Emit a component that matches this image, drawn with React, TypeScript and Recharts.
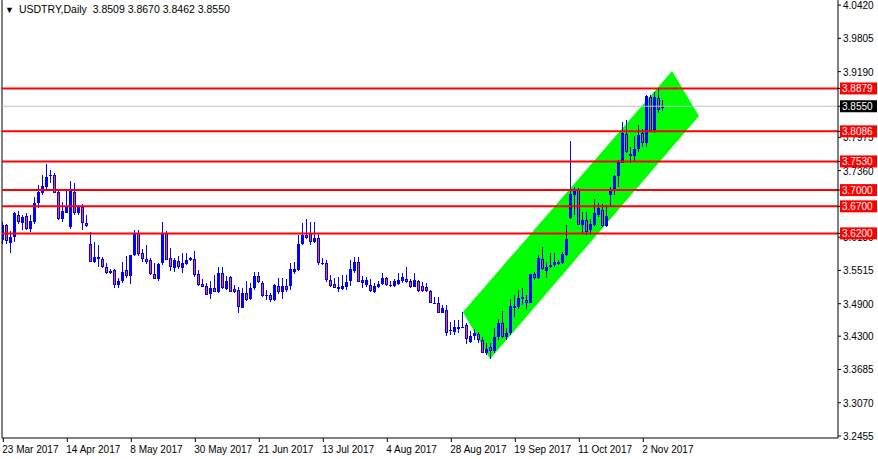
import { ComposedChart, Bar, XAxis, YAxis, ReferenceLine, ReferenceArea } from 'recharts'

// USDTRY daily candles, one value per bar (23 Mar 2017 onwards)
const opens = [
  3.6078, 3.6355, 3.6016, 3.6127, 3.6534, 3.6398, 3.6521, 3.6287, 3.6417, 3.6755,
  3.6953, 3.7051, 3.7261, 3.7279, 3.6965, 3.6460, 3.6583, 3.6324, 3.6965, 3.6571,
  3.6694, 3.6386, 3.5998, 3.5677, 3.5757, 3.5721, 3.5585, 3.5511, 3.5523, 3.5246,
  3.5320, 3.5523, 3.5413, 3.5794, 3.6213, 3.5831, 3.5721, 3.5708, 3.5449, 3.5351,
  3.5647, 3.6213, 3.5739, 3.5567, 3.5690, 3.5567, 3.5634, 3.5708, 3.5727, 3.5449,
  3.5265, 3.5228, 3.5080, 3.5185, 3.5123, 3.5474, 3.5172, 3.5388, 3.5172, 3.5154,
  3.4815, 3.5092, 3.4987, 3.5185, 3.5413, 3.5277, 3.5061, 3.5061, 3.4969, 3.5228,
  3.5111, 3.5228, 3.5228, 3.5493, 3.5523, 3.6004, 3.6170, 3.6201, 3.6047, 3.6121,
  3.5659, 3.5659, 3.5339, 3.5265, 3.5166, 3.5166, 3.5203, 3.5326, 3.5511, 3.5665,
  3.5290, 3.5240, 3.5246, 3.5123, 3.5216, 3.5265, 3.5370, 3.5228, 3.5228, 3.5265,
  3.5326, 3.5351, 3.5326, 3.5216, 3.5326, 3.5228, 3.5216, 3.5142, 3.4920, 3.4920,
  3.4735, 3.4784, 3.4415, 3.4384, 3.4433, 3.4446, 3.4507, 3.4187, 3.4304, 3.4341,
  3.4230, 3.3984, 3.4107, 3.4027, 3.4292, 3.4538, 3.4279, 3.4365, 3.4814, 3.4845,
  3.4981, 3.4968, 3.4920, 3.5450, 3.5370, 3.5721, 3.5512, 3.5586, 3.5616, 3.5635,
  3.5647, 3.5801, 3.6491, 3.6910, 3.7002, 3.6356, 3.6448, 3.6263, 3.6356, 3.6540,
  3.6633, 3.6337, 3.6910, 3.7002, 3.7261, 3.7508, 3.8037, 3.7668, 3.7631, 3.7754,
  3.8062, 3.7865, 3.8715, 3.8111, 3.8697, 3.8509,
]
const highs = [
  3.6417, 3.6373, 3.6244, 3.6601, 3.6614, 3.6540, 3.6571, 3.6540, 3.6879, 3.7094,
  3.7279, 3.7482, 3.7371, 3.7322, 3.7002, 3.6786, 3.6983, 3.7168, 3.7131, 3.6725,
  3.6743, 3.6534, 3.6232, 3.6035, 3.5979, 3.5757, 3.5647, 3.5548, 3.5542, 3.5369,
  3.5671, 3.5782, 3.5794, 3.6263, 3.6263, 3.5905, 3.5979, 3.5739, 3.5647, 3.5647,
  3.6417, 3.6250, 3.5930, 3.5739, 3.5782, 3.5831, 3.5844, 3.5770, 3.5874, 3.5523,
  3.5351, 3.5277, 3.5320, 3.5431, 3.5585, 3.5573, 3.5413, 3.5413, 3.5246, 3.5203,
  3.5185, 3.5326, 3.5289, 3.5493, 3.5493, 3.5320, 3.5154, 3.5092, 3.5265, 3.5369,
  3.5369, 3.5351, 3.5659, 3.5677, 3.6170, 3.6386, 3.6466, 3.6417, 3.6417, 3.6201,
  3.5739, 3.5708, 3.5431, 3.5369, 3.5388, 3.5431, 3.5431, 3.5708, 3.5770, 3.5770,
  3.5413, 3.5400, 3.5351, 3.5277, 3.5326, 3.5474, 3.5400, 3.5326, 3.5351, 3.5474,
  3.5474, 3.5573, 3.5351, 3.5474, 3.5339, 3.5308, 3.5277, 3.5154, 3.5031, 3.5031,
  3.4877, 3.4877, 3.4569, 3.4600, 3.4600, 3.4741, 3.4538, 3.4402, 3.4427, 3.4384,
  3.4292, 3.4168, 3.4168, 3.4446, 3.4612, 3.4772, 3.4446, 3.4981, 3.5061, 3.5153,
  3.5184, 3.5061, 3.5450, 3.5493, 3.5801, 3.5955, 3.5678, 3.5832, 3.5844, 3.5709,
  3.5863, 3.6356, 3.7914, 3.7064, 3.7033, 3.6602, 3.6602, 3.6460, 3.6830, 3.6768,
  3.6744, 3.6725, 3.7064, 3.7280, 3.7557, 3.8265, 3.8296, 3.7791, 3.8001, 3.8204,
  3.8124, 3.8758, 3.8758, 3.8820, 3.8863, 3.8670,
]
const lows = [
  3.6004, 3.6004, 3.5844, 3.6047, 3.6373, 3.6263, 3.6263, 3.6232, 3.6373, 3.6663,
  3.6909, 3.7014, 3.7137, 3.6940, 3.6447, 3.6417, 3.6583, 3.6275, 3.6540, 3.6540,
  3.6263, 3.6312, 3.5677, 3.5647, 3.5585, 3.5554, 3.5449, 3.5449, 3.5185, 3.5185,
  3.5277, 3.5369, 3.5259, 3.5782, 3.5782, 3.5671, 3.5628, 3.5431, 3.5351, 3.5320,
  3.5616, 3.5708, 3.5505, 3.5493, 3.5548, 3.5474, 3.5610, 3.5696, 3.5400, 3.5234,
  3.5203, 3.5061, 3.4981, 3.5123, 3.5105, 3.5166, 3.5154, 3.5111, 3.5092, 3.4735,
  3.4815, 3.4950, 3.4969, 3.5154, 3.5277, 3.5031, 3.4969, 3.4938, 3.4957, 3.5074,
  3.4987, 3.5123, 3.5154, 3.5449, 3.5511, 3.5985, 3.6090, 3.5985, 3.6016, 3.5616,
  3.5616, 3.5308, 3.5203, 3.5185, 3.5111, 3.5154, 3.5154, 3.5228, 3.5474, 3.5296,
  3.5185, 3.5216, 3.5123, 3.5092, 3.5185, 3.5246, 3.5228, 3.5216, 3.5216, 3.5246,
  3.5290, 3.5290, 3.5185, 3.5203, 3.5123, 3.5123, 3.5123, 3.4908, 3.4895, 3.4735,
  3.4735, 3.4304, 3.4322, 3.4322, 3.4353, 3.4446, 3.4150, 3.4168, 3.4230, 3.4181,
  3.3984, 3.3953, 3.3873, 3.3984, 3.4230, 3.4261, 3.4230, 3.4322, 3.4648, 3.4796,
  3.4876, 3.4796, 3.4908, 3.5339, 3.5352, 3.5524, 3.5370, 3.5555, 3.5586, 3.5616,
  3.5635, 3.5783, 3.6460, 3.6540, 3.6356, 3.6202, 3.6171, 3.6171, 3.6337, 3.6510,
  3.6325, 3.6325, 3.6707, 3.6910, 3.7064, 3.7495, 3.7680, 3.7508, 3.7526, 3.7711,
  3.7791, 3.7803, 3.8081, 3.8062, 3.8432, 3.8462,
]
const closes = [
  3.6355, 3.6065, 3.6127, 3.6571, 3.6417, 3.6509, 3.6287, 3.6429, 3.6755, 3.6965,
  3.7076, 3.7236, 3.7279, 3.6953, 3.6460, 3.6614, 3.6694, 3.6983, 3.6571, 3.6681,
  3.6386, 3.6343, 3.5677, 3.5757, 3.5721, 3.5585, 3.5462, 3.5474, 3.5246, 3.5320,
  3.5493, 3.5419, 3.5794, 3.6213, 3.5819, 3.5721, 3.5665, 3.5443, 3.5351, 3.5634,
  3.6201, 3.5708, 3.5573, 3.5708, 3.5573, 3.5659, 3.5708, 3.5745, 3.5431, 3.5240,
  3.5215, 3.5061, 3.5185, 3.5123, 3.5474, 3.5185, 3.5320, 3.5123, 3.5123, 3.4846,
  3.5092, 3.4969, 3.5185, 3.5413, 3.5296, 3.5049, 3.5043, 3.4969, 3.5240, 3.5111,
  3.5228, 3.5154, 3.5542, 3.5542, 3.6004, 3.6170, 3.6121, 3.6047, 3.6121, 3.5647,
  3.5628, 3.5339, 3.5228, 3.5197, 3.5203, 3.5234, 3.5308, 3.5536, 3.5678, 3.5308,
  3.5339, 3.5339, 3.5142, 3.5234, 3.5265, 3.5370, 3.5240, 3.5246, 3.5326, 3.5339,
  3.5400, 3.5302, 3.5216, 3.5339, 3.5142, 3.5142, 3.5142, 3.4920, 3.4908, 3.4735,
  3.4828, 3.4353, 3.4396, 3.4464, 3.4464, 3.4476, 3.4242, 3.4304, 3.4366, 3.4230,
  3.3984, 3.4058, 3.4027, 3.4292, 3.4538, 3.4292, 3.4353, 3.4858, 3.4858, 3.4999,
  3.5018, 3.4919, 3.5450, 3.5370, 3.5740, 3.5536, 3.5586, 3.5616, 3.5678, 3.5678,
  3.5814, 3.6097, 3.6928, 3.7015, 3.6356, 3.6448, 3.6232, 3.6374, 3.6571, 3.6664,
  3.6337, 3.6522, 3.7015, 3.7261, 3.7526, 3.8050, 3.7711, 3.7637, 3.7754, 3.8019,
  3.7865, 3.8740, 3.8099, 3.8715, 3.8481, 3.8550,
]

// date labels every 16 bars
const tickBars = [0, 16, 32, 48, 64, 80, 96, 112, 128, 144, 160]
const tickDates = [
  '23 Mar 2017', '14 Apr 2017', '8 May 2017', '30 May 2017', '21 Jun 2017', '13 Jul 2017',
  '4 Aug 2017', '28 Aug 2017', '19 Sep 2017', '11 Oct 2017', '2 Nov 2017',
]
// price scale labels that are visible (the ones fully under a tag are left out)
const priceTicks = [
  4.042, 3.9805, 3.919, 3.7975, 3.736, 3.613, 3.5515, 3.49, 3.43, 3.3685, 3.307, 3.2455,
]
const levels = [3.8879, 3.8086, 3.753, 3.7, 3.67, 3.62]
const lastPrice = 3.855

// equidistant channel corners: [bar, price]
const channelTopLeft = [114.9, 3.4747]
const channelBottom = [121.7, 3.3878]
const channelRight = [173.9, 3.837]
const channelTop = [167.2, 3.9202]

const FONT = '"Liberation Sans", Arial, sans-serif'
const BLUE = '#0000ff'
const BEAR_FILL = '#f4511e'

const data = opens.map((o, i) => ({
  bar: i,
  o,
  h: highs[i],
  l: lows[i],
  c: closes[i],
  range: [lows[i], highs[i]],
}))

// price tags last so they paint over the plain tick labels
const axisTicks = [...priceTicks, lastPrice, ...levels]

function Candle(props: any) {
  const { x, y, width, height, payload } = props
  if (!payload || height == null) return null
  const { o, h, l, c } = payload
  const ppu = h > l ? height / (h - l) : 0
  const cx = Math.floor(x + width / 2)
  const yOf = (v: number) => y + (h - v) * ppu
  const top = Math.round(yOf(Math.max(o, c)))
  const bot = Math.round(yOf(Math.min(o, c)))
  const bodyH = Math.max(1, bot - top)
  const wickTop = Math.round(y)
  const wickH = Math.max(1, Math.round(y + height) - wickTop)
  const bear = c < o
  return (
    <g shapeRendering="crispEdges">
      <rect x={cx} y={wickTop} width={1} height={wickH} fill={BLUE} />
      <rect x={cx - 1} y={top} width={3} height={bodyH} fill={BLUE} />
      {bear && bodyH > 2 && (
        <rect x={cx} y={top + 1} width={1} height={bodyH - 2} fill={BEAR_FILL} />
      )}
    </g>
  )
}

function Channel(props: any) {
  const { x, y, width, height } = props
  const x1 = channelTopLeft[0]
  const x2 = channelRight[0]
  const yMax = channelTop[1]
  const yMin = channelBottom[1]
  const px = (b: number) => x + ((b - x1) / (x2 - x1)) * width
  const py = (v: number) => y + ((yMax - v) / (yMax - yMin)) * height
  const pts = [channelTopLeft, channelBottom, channelRight, channelTop]
    .map(([b, v]) => `${px(b)},${py(v)}`)
    .join(' ')
  return <polygon points={pts} fill="#00ff00" stroke="none" />
}

function PriceTick({ x, y, payload }: any) {
  const v = payload.value
  const label = Number(v).toFixed(4)
  const isLevel = levels.includes(v)
  const isLast = v === lastPrice
  if (isLevel || isLast) {
    const left = x - 3
    return (
      <g>
        <rect x={left} y={y - 6} width={37} height={12} fill={isLast ? '#000' : '#ff0000'} />
        <text x={left + 2} y={y + 4} fill="#fff" fontSize={10} fontFamily={FONT}>
          {label}
        </text>
      </g>
    )
  }
  return (
    <text x={x} y={y + 4} fill="#000" fontSize={10} fontFamily={FONT}>
      {label}
    </text>
  )
}

function DateTick({ x, y, payload }: any) {
  const idx = tickBars.indexOf(payload.value)
  return (
    <text x={x - 1} y={y + 9} fontSize={10} fontFamily={FONT} fill="#000" textAnchor="start">
      {tickDates[idx]}
    </text>
  )
}

export default function App() {
  return (
    <div style={{ position: 'absolute', left: 0, top: 0, width: 878, height: 459, background: '#fff' }}>
      <ComposedChart
        width={878}
        height={459}
        data={data}
        margin={{ top: 0, right: 0, bottom: 0, left: 2 }}
      >
        <XAxis
          dataKey="bar"
          type="number"
          domain={[-0.33, 208.67]}
          allowDataOverflow
          ticks={tickBars}
          interval={0}
          tick={<DateTick />}
          height={21}
          tickSize={4}
          tickLine={{ stroke: '#000' }}
          axisLine={{ stroke: '#000' }}
        />
        <YAxis
          orientation="right"
          type="number"
          domain={[3.2418, 4.0514]}
          allowDataOverflow
          ticks={axisTicks}
          interval={0}
          width={40}
          tickSize={3}
          tickMargin={2}
          tick={<PriceTick />}
          tickLine={{ stroke: '#000' }}
          axisLine={{ stroke: '#000' }}
        />
        <ReferenceArea
          x1={channelTopLeft[0]}
          x2={channelRight[0]}
          y1={channelBottom[1]}
          y2={channelTop[1]}
          shape={<Channel />}
          ifOverflow="visible"
        />
        <ReferenceLine x={-0.33} stroke="#000" strokeWidth={1} />
        <Bar dataKey="range" barSize={3} shape={<Candle />} isAnimationActive={false} />
        <ReferenceLine y={lastPrice} stroke="#c0c0c0" strokeWidth={1} />
        {levels.map(v => (
          <ReferenceLine key={v} y={v} stroke="#ff0000" strokeWidth={2} />
        ))}
      </ComposedChart>
      <div
        style={{
          position: 'absolute',
          left: 5,
          top: 2,
          fontFamily: FONT,
          fontSize: 10.5,
          color: '#000',
          whiteSpace: 'pre',
          lineHeight: '14px',
        }}
      >
        <span style={{ fontSize: 9, marginRight: 5 }}>▼</span>
        {'USDTRY,Daily  3.8509 3.8670 3.8462 3.8550'}
      </div>
    </div>
  )
}
